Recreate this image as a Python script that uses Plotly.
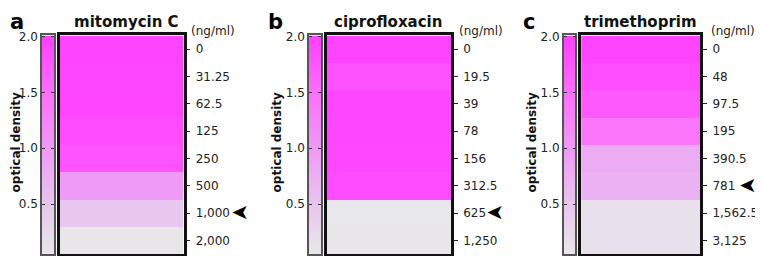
"""
Growth of bacteria under three antibiotics: optical density heat strips.
"""

import plotly.graph_objects as go

# Data
PANELS = ["a", "b", "c"]
DRUGS = ["mitomycin C", "ciprofloxacin", "trimethoprim"]

CONC_A = ["0", "31.25", "62.5", "125", "250", "500", "1,000", "2,000"]
CONC_B = ["0", "19.5", "39", "78", "156", "312.5", "625", "1,250"]
CONC_C = ["0", "48", "97.5", "195", "390.5", "781", "1,562.5", "3,125"]

OD_A = [1.97, 1.95, 1.96, 1.88, 1.8, 1.0, 0.48, 0.07]
OD_B = [1.97, 1.82, 1.95, 1.95, 1.93, 1.88, 0.06, 0.08]
OD_C = [1.97, 1.86, 1.74, 1.42, 0.8, 0.74, 0.16, 0.16]

MARKED = ["1,000", "625", "781"]

OD_RANGE = [0.05, 2.01]
OD_TICKS = [0.5, 1.0, 1.5, 2.0]

# Colour scale (grey -> magenta), stops given in OD units
SCALE_OD = [0.05, 0.5, 1.0, 1.5, 2.01]
SCALE_COL = ["#e8e8e9", "#e8c6ee", "#ef9af6", "#fc6ffc", "#ff40ff"]

# Layout, in pixels of the target picture
W, H = 763, 256
PAGE_OFF = 8          # the page puts the figure 8px in from the top-left
TOP, BOTTOM = 30, 254
CB_LEFT = [42, 309, 564]
CB_W = 12
BOX_LEFT = [59.5, 327, 582]
BOX_W = 124
LETTER_X = [8, 266, 521]
LETTER_Y = 2
TITLE_X = [126, 388, 643.5]
UNIT_X = [189, 457, 715]
YLABEL_X = [16, 277, 532]
ARROW_X = [240, 495, 755]

FONT = "DejaVu Sans"


def sx(s):
    # squeeze the right-most panel a little so it fits the visible page
    if s > 560:
        s = 560 + (s - 560) * 195 / 203
    return (s - PAGE_OFF) / W


def sy(s):
    return 1 - (s - PAGE_OFF) / H


def colorscale():
    lo, hi = SCALE_OD[0], SCALE_OD[-1]
    return [[(v - lo) / (hi - lo), c] for v, c in zip(SCALE_OD, SCALE_COL)]


def build():
    fig = go.Figure()
    cs = colorscale()
    concs = [CONC_A, CONC_B, CONC_C]
    ods = [OD_A, OD_B, OD_C]
    layout = {}
    annotations = []

    for i in range(3):
        cb_x, cb_y = f"x{2*i+1}", f"y{2*i+1}"
        bx_x, bx_y = f"x{2*i+2}", f"y{2*i+2}"
        ydom = [sy(BOTTOM), sy(TOP)]
        n = len(concs[i])

        # gradient strip (scale bar)
        fig.add_trace(go.Heatmap(
            x=[0, 1], y=OD_RANGE,
            z=[[OD_RANGE[0], OD_RANGE[0]], [OD_RANGE[1], OD_RANGE[1]]],
            zmin=SCALE_OD[0], zmax=SCALE_OD[-1], colorscale=cs,
            zsmooth="best", showscale=False, hoverinfo="skip",
            xaxis=cb_x, yaxis=cb_y,
        ))
        # concentration rows
        fig.add_trace(go.Heatmap(
            x=[0], y=concs[i], z=[[v] for v in ods[i]],
            zmin=SCALE_OD[0], zmax=SCALE_OD[-1], colorscale=cs,
            showscale=False,
            xaxis=bx_x, yaxis=bx_y,
        ))

        layout[f"xaxis{2*i+1}"] = dict(
            domain=[sx(CB_LEFT[i]), sx(CB_LEFT[i] + CB_W)],
            anchor=cb_y, range=[-0.5, 1.5], showgrid=False, zeroline=False,
            showticklabels=False, ticks="", showline=True, mirror=True,
            linecolor="#555555", linewidth=1.5,
        )
        layout[f"yaxis{2*i+1}"] = dict(
            domain=ydom, anchor=cb_x, range=OD_RANGE, showgrid=False,
            zeroline=False, tickvals=OD_TICKS, tickformat=".1f",
            ticks="inside", ticklen=3, tickcolor="#333333", tickwidth=1,
            showline=True, mirror="ticks", linecolor="#555555", linewidth=1.5,
            tickfont=dict(family=FONT, size=12, color="#222222"),
            ticklabelstandoff=0,
        )
        layout[f"xaxis{2*i+2}"] = dict(
            domain=[sx(BOX_LEFT[i]), sx(BOX_LEFT[i] + BOX_W)],
            anchor=bx_y, range=[-0.5, 0.5], showgrid=False, zeroline=False,
            showticklabels=False, ticks="", showline=True, mirror=True,
            linecolor="#111111", linewidth=2.5,
        )
        layout[f"yaxis{2*i+2}"] = dict(
            domain=ydom, anchor=bx_x, type="category",
            categoryorder="array", categoryarray=concs[i],
            range=[n - 0.5, -0.5], side="right", showgrid=False,
            zeroline=False, ticks="outside", ticklen=4, tickwidth=1.2,
            tickcolor="#222222", showline=True, mirror=True,
            linecolor="#111111", linewidth=2.5,
            tickfont=dict(family=FONT, size=12, color="#222222"),
            ticklabelstandoff=3,
        )

        annotations += [
            dict(text=f"<b>{PANELS[i]}</b>", x=sx(LETTER_X[i]), y=sy(LETTER_Y),
                 xref="paper", yref="paper", xanchor="left", yanchor="top",
                 showarrow=False, font=dict(family=FONT, size=21, color="black")),
            dict(text=f"<b>{DRUGS[i]}</b>", x=sx(TITLE_X[i]), y=sy(16),
                 xref="paper", yref="paper", xanchor="center", yanchor="middle",
                 showarrow=False, font=dict(family=FONT, size=15, color="#111111")),
            dict(text="(ng/ml)", x=sx(UNIT_X[i]), y=sy(25.5),
                 xref="paper", yref="paper", xanchor="left", yanchor="middle",
                 showarrow=False, font=dict(family=FONT, size=12, color="#222222")),
            dict(text="<b>optical density</b>", x=sx(YLABEL_X[i]), y=sy(139.5),
                 xref="paper", yref="paper", xanchor="center", yanchor="middle",
                 textangle=-90, showarrow=False,
                 font=dict(family=FONT, size=12, color="#111111")),
            dict(text="➤", x=sx(ARROW_X[i]), y=concs[i].index(MARKED[i]),
                 xref="paper", yref=bx_y, xanchor="center", yanchor="middle",
                 textangle=180, showarrow=False,
                 font=dict(family=FONT, size=21, color="black")),
        ]

    fig.update_layout(
        width=W, height=H, margin=dict(l=0, r=0, t=0, b=0),
        paper_bgcolor="white", plot_bgcolor="white",
        showlegend=False, annotations=annotations, **layout,
    )
    return fig


def main():
    fig = build()
    fig.write_html("out.html")


if __name__ == "__main__":
    main()
